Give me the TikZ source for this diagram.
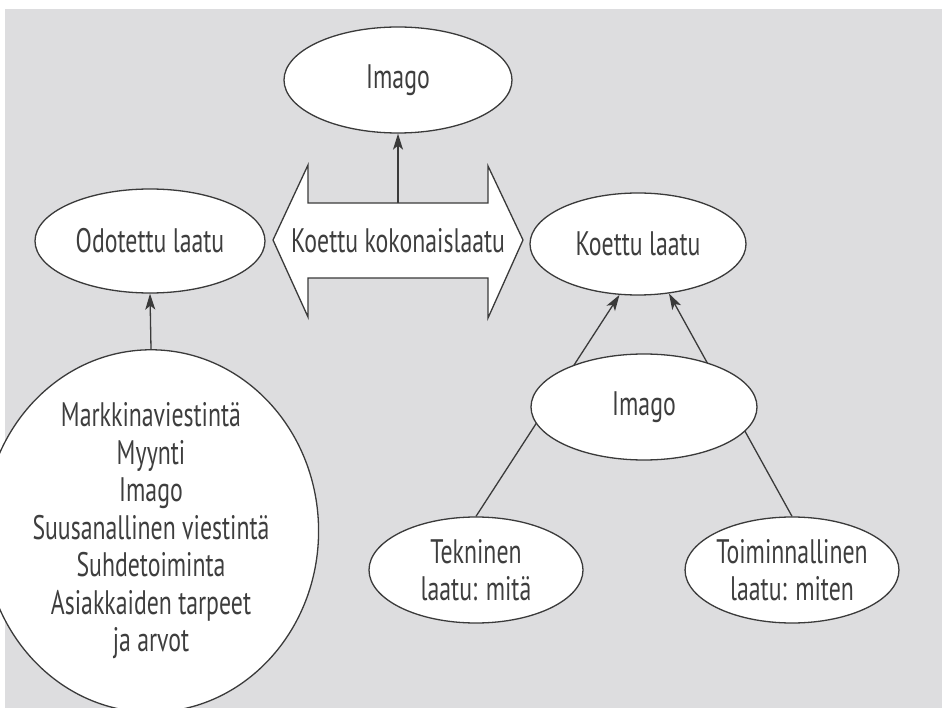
\documentclass[tikz,border=0pt]{standalone}
\usepackage{fontspec}
\setmainfont{PT Sans}[FakeStretch=0.70]
\usetikzlibrary{shapes.geometric,arrows.meta}
\definecolor{bgcol}{RGB}{221,221,223}
\definecolor{linecol}{RGB}{58,58,58}
\definecolor{textcol}{RGB}{62,62,62}
\begin{document}
\begin{tikzpicture}[x=1pt,y=-1pt,
  ell/.style={ellipse, draw=linecol, line width=1.3pt, fill=white, inner sep=0pt,
    font=\fontsize{34}{37.5}\selectfont, text=textcol, align=center},
  conn/.style={draw=linecol, line width=1.3pt, -{Stealth[length=16pt,width=10pt,inset=4pt]}},
  lbl/.style={font=\fontsize{34}{37.5}\selectfont, text=textcol, inner sep=0pt}
]
\fill[white] (0,0) rectangle (942,708);
\fill[bgcol] (5,9) rectangle (942,708);
\useasboundingbox (0,0) rectangle (942,708);

% double arrow
\draw[linecol, line width=1.3pt, fill=white, line join=miter]
  (273,240) -- (308,165) -- (308,203) -- (488,203) -- (488,166) -- (523,240)
  -- (488,318) -- (488,278) -- (308,278) -- (308,317) -- cycle;
\node[lbl] (kk) at (398,241) {Koettu kokonaislaatu};
\coordinate (kktop) at (398,203);

\node[ell, minimum width=228pt, minimum height=106pt] (imagotop) at (398,80) {Imago};
\node[ell, minimum width=230pt, minimum height=104pt] (odotettu) at (150,241) {Odotettu laatu};
\node[ell, minimum width=216pt, minimum height=102pt] (koettu) at (638,244) {Koettu laatu};
\node[ell, minimum width=262pt, minimum height=352pt] (big) at (151,531)
  {Markkinaviestintä\\Myynti\\Imago\\Suusanallinen viestintä\\Suhdetoiminta\\Asiakkaiden tarpeet\\ja arvot};
\node[ell, minimum width=214pt, minimum height=106pt] (tekninen) at (476,570) {Tekninen\\laatu: mitä};
\node[ell, minimum width=208pt, minimum height=106pt] (toim) at (792,570) {Toiminnallinen\\laatu: miten};

\draw[conn] (kktop) -- (imagotop.south);
\draw[conn] (big.north) -- (odotettu.south);
\draw[conn] (tekninen.north) -- (koettu.250);
\draw[conn] (toim.north) -- (koettu.302);

\node[ell, minimum width=226pt, minimum height=106pt] (imagomid) at (644,407) {Imago};
\end{tikzpicture}
\end{document}
